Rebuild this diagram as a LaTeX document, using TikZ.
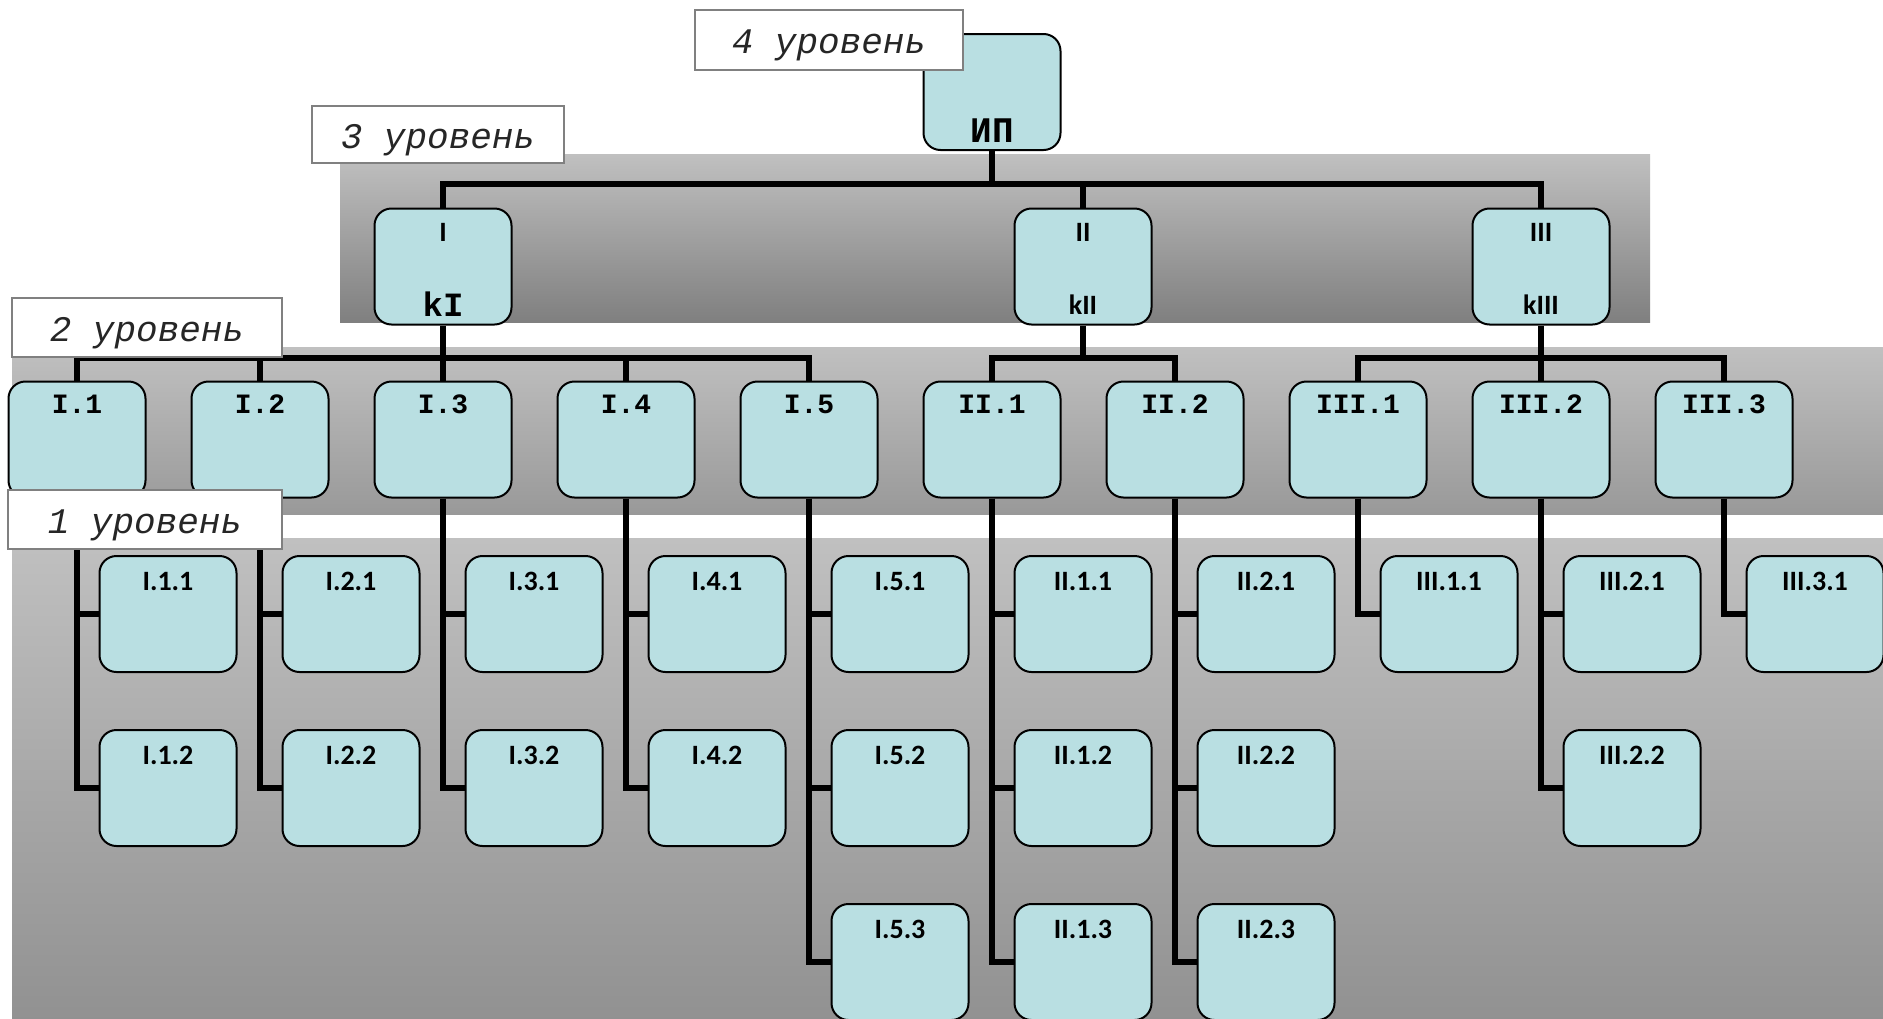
\documentclass[tikz,border=0pt]{standalone}
\usepackage{fontspec}
\setmainfont{Carlito}
\newfontfamily\monof{Liberation Mono}
\newfontfamily\calf{Carlito}
\usetikzlibrary{calc}
\definecolor{boxfill}{HTML}{B9DFE2}
\definecolor{bandtop}{HTML}{C0C0C0}
\pgfdeclarelayer{bands}
\pgfdeclarelayer{lines}
\pgfsetlayers{bands,lines,main}
\tikzset{
  box/.style={draw=black, line width=2pt, fill=boxfill, rounded corners=17pt,
    minimum width=137pt, minimum height=116pt, inner sep=0pt},
  lonetext/.style={font=\calf\bfseries\fontsize{28}{30}\selectfont, anchor=center, inner sep=0pt},
  ltwotext/.style={font=\monof\bfseries\fontsize{28}{30}\selectfont, anchor=center, inner sep=0pt},
  lonebox/.style={box, label={[lonetext, yshift=-26pt]north:#1}},
  ltwobox/.style={box, label={[ltwotext, yshift=-24pt]north:#1}},
  conn/.style={line width=6pt, line join=miter, draw=black},
  lvlabel/.style={draw=black!50, fill=white, line width=1.5pt, inner sep=0pt,
    text height=27pt, text depth=0pt,
    font=\monof\itshape\fontsize{36}{40}\selectfont, text=black!85}
}
\begin{document}
\begin{tikzpicture}[x=1pt,y=-1pt]
\useasboundingbox (0,0) rectangle (1883,1018);

% bands
\begin{pgfonlayer}{bands}
\fill[white] (0,0) rectangle (1883,1018);
\shade[top color=bandtop, bottom color=black!50] (340,154) rectangle (1650,322);
\shade[top color=bandtop, bottom color=black!40] (12,347) rectangle (1883,514);
\shade[top color=bandtop, bottom color=black!43] (12,538) rectangle (1883,1018);
\end{pgfonlayer}

% level 4
\node[box, label={[ltwotext, font=\monof\bfseries\fontsize{36}{40}\selectfont, yshift=20pt]south:ИП}] (IP) at (992,92) {};

% level 3
\node[box, label={[lonetext, yshift=-25pt]north:I},
  label={[ltwotext, font=\monof\bfseries\fontsize{34}{38}\selectfont, yshift=21pt]south:kI}] (A) at (443,266.5) {};
\node[box, label={[lonetext, yshift=-25pt]north:II},
  label={[lonetext, yshift=21pt]south:kII}] (B) at (1083,266.5) {};
\node[box, label={[lonetext, yshift=-25pt]north:III},
  label={[lonetext, yshift=21pt]south:kIII}] (C) at (1541,266.5) {};

% level 2
\node[ltwobox=I.1] (A1) at (77,439.5) {};
\node[ltwobox=I.2] (A2) at (260,439.5) {};
\node[ltwobox=I.3] (A3) at (443,439.5) {};
\node[ltwobox=I.4] (A4) at (626,439.5) {};
\node[ltwobox=I.5] (A5) at (809,439.5) {};
\node[ltwobox=II.1] (B1) at (992,439.5) {};
\node[ltwobox=II.2] (B2) at (1175,439.5) {};
\node[ltwobox=III.1] (C1) at (1358,439.5) {};
\node[ltwobox=III.2] (C2) at (1541,439.5) {};
\node[ltwobox=III.3] (C3) at (1724,439.5) {};

% level 1
\node[lonebox=I.1.1] (A11) at (168,614) {};
\node[lonebox=I.1.2] (A12) at (168,788) {};
\node[lonebox=I.2.1] (A21) at (351,614) {};
\node[lonebox=I.2.2] (A22) at (351,788) {};
\node[lonebox=I.3.1] (A31) at (534,614) {};
\node[lonebox=I.3.2] (A32) at (534,788) {};
\node[lonebox=I.4.1] (A41) at (717,614) {};
\node[lonebox=I.4.2] (A42) at (717,788) {};
\node[lonebox=I.5.1] (A51) at (900,614) {};
\node[lonebox=I.5.2] (A52) at (900,788) {};
\node[lonebox=I.5.3] (A53) at (900,962) {};
\node[lonebox=II.1.1] (B11) at (1083,614) {};
\node[lonebox=II.1.2] (B12) at (1083,788) {};
\node[lonebox=II.1.3] (B13) at (1083,962) {};
\node[lonebox=II.2.1] (B21) at (1266,614) {};
\node[lonebox=II.2.2] (B22) at (1266,788) {};
\node[lonebox=II.2.3] (B23) at (1266,962) {};
\node[lonebox=III.1.1] (C11) at (1449,614) {};
\node[lonebox=III.2.1] (C21) at (1632,614) {};
\node[lonebox=III.2.2] (C22) at (1632,788) {};
\node[lonebox=III.3.1] (C31) at (1815,614) {};

\coordinate (busthree) at (0,184);
\coordinate (bustwo) at (0,358);

% connectors
\begin{pgfonlayer}{lines}
\draw[conn] (IP.south) -- (IP.south |- busthree);
\draw[conn] (A.north) -- (A.north |- busthree) -- (C.north |- busthree) -- (C.north);
\draw[conn] (B.north) -- (B.north |- busthree);

\draw[conn] (A.south) -- (A3.north);
\draw[conn] (A1.north) -- (A1.north |- bustwo) -- (A5.north |- bustwo) -- (A5.north);
\draw[conn] (A2.north) -- (A2.north |- bustwo);
\draw[conn] (A4.north) -- (A4.north |- bustwo);

\draw[conn] (B.south) -- (B.south |- bustwo);
\draw[conn] (B1.north) -- (B1.north |- bustwo) -- (B2.north |- bustwo) -- (B2.north);

\draw[conn] (C.south) -- (C2.north);
\draw[conn] (C1.north) -- (C1.north |- bustwo) -- (C3.north |- bustwo) -- (C3.north);

\draw[conn] (A1.south) |- (A11.west);
\draw[conn] (A1.south) |- (A12.west);
\draw[conn] (A2.south) |- (A21.west);
\draw[conn] (A2.south) |- (A22.west);
\draw[conn] (A3.south) |- (A31.west);
\draw[conn] (A3.south) |- (A32.west);
\draw[conn] (A4.south) |- (A41.west);
\draw[conn] (A4.south) |- (A42.west);
\draw[conn] (A5.south) |- (A51.west);
\draw[conn] (A5.south) |- (A52.west);
\draw[conn] (A5.south) |- (A53.west);
\draw[conn] (B1.south) |- (B11.west);
\draw[conn] (B1.south) |- (B12.west);
\draw[conn] (B1.south) |- (B13.west);
\draw[conn] (B2.south) |- (B21.west);
\draw[conn] (B2.south) |- (B22.west);
\draw[conn] (B2.south) |- (B23.west);
\draw[conn] (C1.south) |- (C11.west);
\draw[conn] (C2.south) |- (C21.west);
\draw[conn] (C2.south) |- (C22.west);
\draw[conn] (C3.south) |- (C31.west);
\end{pgfonlayer}

% level labels
\node[lvlabel, minimum width=268pt, minimum height=60pt] (L4) at (829,40) {4 уровень};
\node[lvlabel, minimum width=252pt, minimum height=57pt] (L3) at (438,134.5) {3 уровень};
\node[lvlabel, minimum width=270pt, minimum height=59pt] (L2) at (147,327.5) {2 уровень};
\node[lvlabel, minimum width=274pt, minimum height=59pt] (L1) at (145,519.5) {1 уровень};
\end{tikzpicture}
\end{document}
